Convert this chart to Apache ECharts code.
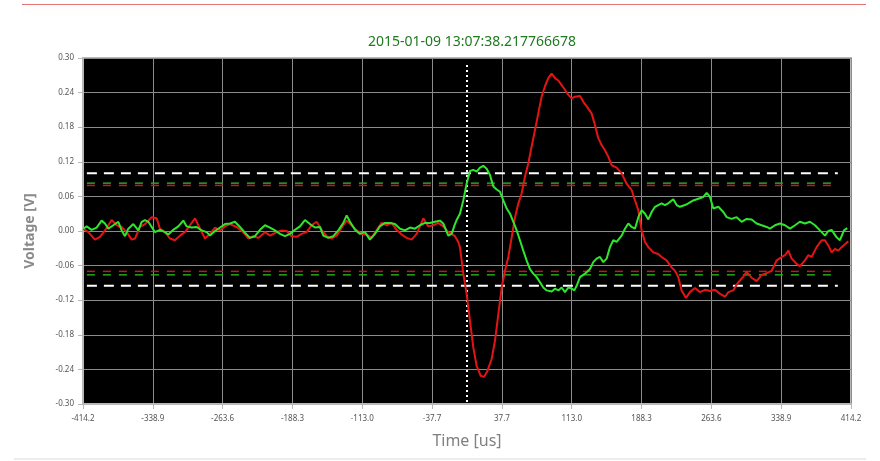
<!DOCTYPE html>
<html><head><meta charset="utf-8">
<script src="https://cdn.jsdelivr.net/npm/echarts@6/dist/echarts.min.js"></script>
<style>html,body{margin:0;padding:0;background:#fff}#c{width:880px;height:461px}</style>
</head><body><div id="c"></div>
<script>
const titleText = '2015-01-09 13:07:38.217766678';
const xAxisName = 'Time [us]';
const yAxisName = 'Voltage [V]';
const xTickLabels = ['-414.2','-338.9','-263.6','-188.3','-113.0','-37.7','37.7','113.0','188.3','263.6','338.9','414.2'];
const timeMin = -414.2, timeMax = 414.2;
const voltMin = -0.30, voltMax = 0.30, voltStep = 0.06;

const redTrace = [[-413.8,0.004],[-408.5,-0.002],[-401.3,-0.015],[-395.9,-0.010],[-390.5,0.001],[-383.3,0.019],[-377.9,0.010],[-372.5,0.007],[-367.1,-0.002],[-361.7,-0.015],[-358.1,-0.013],[-352.7,0.007],[-347.3,0.012],[-340.1,0.024],[-334.8,0.022],[-331.2,0.004],[-325.8,-0.002],[-320.4,-0.013],[-315.0,-0.016],[-309.6,-0.008],[-304.2,-0.002],[-298.8,0.010],[-293.4,0.022],[-288.0,0.004],[-282.6,-0.013],[-277.2,-0.005],[-271.8,0.006],[-266.4,0.001],[-261.0,0.008],[-255.6,0.012],[-248.5,0.007],[-241.3,-0.002],[-235.9,-0.013],[-230.5,-0.009],[-225.1,-0.012],[-217.9,-0.002],[-212.5,-0.008],[-205.3,-0.002],[-199.9,0.001],[-194.5,0.000],[-189.2,-0.009],[-183.8,-0.010],[-178.4,-0.005],[-173.0,-0.002],[-167.6,0.010],[-162.2,0.016],[-156.8,0.002],[-151.4,-0.009],[-146.0,-0.013],[-140.6,-0.008],[-133.4,0.010],[-129.8,0.018],[-124.4,0.010],[-119.0,0.001],[-113.7,-0.005],[-108.3,-0.006],[-102.9,-0.012],[-97.5,0.001],[-92.1,0.014],[-86.7,0.010],[-81.3,0.014],[-75.9,0.002],[-70.5,-0.006],[-65.1,-0.012],[-59.7,-0.015],[-54.3,-0.005],[-47.1,0.022],[-41.8,0.008],[-36.4,0.010],[-31.0,0.014],[-25.6,0.008],[-20.2,-0.002],[-16.6,-0.005],[-13.0,-0.009],[-9.4,-0.019],[-7.6,-0.028],[-4.0,-0.074],[-0.4,-0.109],[3.2,-0.156],[6.8,-0.202],[10.4,-0.234],[14.7,-0.251],[18.3,-0.253],[21.9,-0.243],[26.6,-0.222],[30.2,-0.190],[33.8,-0.144],[37.4,-0.098],[41.0,-0.069],[44.6,-0.045],[48.2,-0.011],[51.8,0.024],[55.4,0.048],[58.9,0.065],[62.5,0.094],[66.1,0.117],[69.7,0.146],[73.3,0.175],[76.9,0.204],[80.5,0.233],[84.1,0.251],[87.7,0.265],[91.3,0.273],[94.9,0.265],[98.5,0.261],[102.1,0.253],[105.7,0.245],[109.3,0.236],[112.9,0.230],[116.5,0.233],[121.9,0.234],[125.5,0.224],[129.1,0.216],[134.4,0.204],[138.0,0.184],[141.6,0.161],[145.2,0.149],[148.8,0.140],[152.4,0.129],[156.0,0.114],[161.4,0.110],[166.8,0.100],[172.2,0.082],[177.6,0.071],[181.2,0.053],[184.8,0.036],[188.4,0.001],[192.0,-0.019],[195.6,-0.028],[201.0,-0.037],[206.3,-0.040],[209.9,-0.045],[215.3,-0.051],[220.7,-0.063],[224.3,-0.069],[227.9,-0.080],[231.5,-0.103],[236.2,-0.116],[240.5,-0.106],[245.9,-0.099],[251.3,-0.106],[256.7,-0.102],[262.1,-0.104],[267.5,-0.102],[272.9,-0.109],[278.3,-0.114],[281.9,-0.106],[287.2,-0.103],[292.6,-0.089],[298.0,-0.079],[301.6,-0.071],[307.0,-0.081],[312.4,-0.087],[317.8,-0.076],[323.2,-0.073],[328.6,-0.069],[334.0,-0.051],[339.4,-0.045],[343.0,-0.042],[346.6,-0.034],[350.2,-0.048],[355.5,-0.057],[359.1,-0.061],[364.5,-0.051],[368.1,-0.042],[371.7,-0.045],[377.1,-0.028],[382.5,-0.016],[386.1,-0.016],[389.7,-0.025],[393.3,-0.037],[396.9,-0.031],[400.5,-0.034],[404.1,-0.028],[407.7,-0.023],[411.3,-0.018]];

const greenTrace = [[-413.8,0.004],[-410.3,0.008],[-404.9,0.002],[-399.5,0.006],[-394.1,0.018],[-390.5,0.013],[-386.9,0.004],[-381.5,0.010],[-376.1,0.016],[-372.5,0.001],[-368.9,-0.009],[-365.3,0.004],[-359.9,0.012],[-354.5,0.001],[-350.9,0.016],[-347.3,0.019],[-343.7,0.016],[-340.1,0.007],[-336.6,-0.002],[-331.2,0.002],[-325.8,-0.002],[-322.2,-0.006],[-316.8,0.002],[-311.4,0.008],[-306.0,0.018],[-302.4,0.008],[-297.0,0.006],[-291.6,0.007],[-286.2,0.001],[-280.8,-0.002],[-277.2,-0.008],[-271.8,0.000],[-266.4,0.006],[-261.0,0.012],[-255.6,0.013],[-250.3,0.016],[-244.9,0.007],[-239.5,-0.003],[-234.1,-0.012],[-228.7,-0.009],[-223.3,0.002],[-217.9,0.010],[-212.5,0.006],[-207.1,0.001],[-201.7,-0.005],[-196.3,-0.009],[-190.9,-0.005],[-185.6,0.002],[-180.2,0.008],[-174.8,0.019],[-169.4,0.012],[-164.0,0.006],[-158.6,0.007],[-155.0,-0.008],[-149.6,-0.012],[-144.2,-0.009],[-138.8,0.001],[-133.4,0.014],[-129.8,0.027],[-126.2,0.016],[-120.8,0.002],[-115.5,-0.005],[-110.1,-0.002],[-104.7,-0.015],[-99.3,-0.005],[-93.9,0.008],[-88.5,0.014],[-83.1,0.014],[-77.7,0.012],[-72.3,0.004],[-66.9,0.001],[-61.5,0.006],[-56.1,0.004],[-50.7,0.010],[-45.4,0.014],[-40.0,0.014],[-34.6,0.016],[-29.2,0.018],[-25.6,0.013],[-20.2,-0.008],[-16.6,-0.005],[-13.0,0.012],[-11.2,0.019],[-7.6,0.030],[-4.0,0.053],[-0.4,0.082],[3.2,0.104],[6.8,0.106],[10.4,0.103],[14.0,0.110],[17.6,0.113],[21.2,0.108],[24.8,0.097],[28.4,0.077],[32.0,0.072],[35.6,0.068],[39.2,0.053],[42.8,0.039],[46.4,0.030],[50.0,0.016],[53.6,0.001],[57.1,-0.016],[60.7,-0.034],[64.3,-0.051],[67.9,-0.066],[71.5,-0.074],[75.1,-0.080],[78.7,-0.089],[82.3,-0.098],[85.9,-0.103],[91.3,-0.105],[94.9,-0.100],[98.5,-0.103],[102.1,-0.098],[105.7,-0.106],[109.3,-0.098],[112.9,-0.100],[115.8,-0.103],[118.3,-0.095],[121.9,-0.080],[127.3,-0.074],[132.6,-0.066],[136.2,-0.054],[139.8,-0.048],[143.4,-0.045],[147.0,-0.054],[150.6,-0.048],[154.2,-0.028],[157.8,-0.016],[161.4,-0.019],[166.8,-0.008],[170.4,0.004],[174.0,0.013],[177.6,0.007],[181.2,0.004],[184.8,0.024],[188.4,0.036],[192.0,0.030],[195.6,0.020],[199.2,0.033],[202.8,0.042],[206.3,0.045],[209.9,0.048],[213.5,0.045],[217.1,0.048],[222.5,0.055],[226.1,0.045],[229.7,0.042],[235.1,0.045],[238.7,0.048],[244.1,0.053],[249.5,0.056],[254.9,0.059],[258.5,0.066],[262.1,0.059],[265.7,0.039],[271.1,0.042],[276.5,0.033],[280.1,0.024],[285.4,0.021],[290.8,0.024],[296.2,0.016],[301.6,0.021],[307.0,0.020],[312.4,0.013],[317.8,0.010],[323.2,0.007],[326.8,0.004],[332.2,0.010],[337.6,0.013],[343.0,0.010],[348.4,0.004],[353.8,0.010],[359.1,0.016],[364.5,0.013],[369.9,0.016],[375.3,0.010],[380.7,0.001],[386.1,-0.008],[389.7,0.000],[393.3,0.002],[398.7,-0.011],[402.3,-0.016],[406.6,0.001],[410.2,0.005]];

const whiteLimits = [0.100, -0.095];
const greenLimits = [0.083, -0.076];
const redLimits = [0.079, -0.070];
const limitSpan = [-410, 400];
const triggerTime = 0;
const triggerSpan = [0.288, -0.30];

// axis runs in tick units (0..11) so ticks start exactly at timeMin
const nTicks = xTickLabels.length - 1;
const toAxis = t => (t - timeMin) / (timeMax - timeMin) * nTicks;
const mapTrace = arr => arr.map(p => [toAxis(p[0]), p[1]]);
const limitLine = v => limitSpan.map(t => [toAxis(t), v]);

const series = [];
function addLimit(v, color, width, dash) {
  series.push({type:'line', data: limitLine(v), showSymbol:false, silent:true, animation:false,
    lineStyle:{color, width, type: dash}, z: 2});
}
whiteLimits.forEach(v => addLimit(v, '#ffffff', 2, [10, 7]));
greenLimits.forEach(v => addLimit(v, '#1fa81f', 1.5, [8, 8]));
redLimits.forEach(v => addLimit(v, '#c81818', 1.5, [8, 8]));
series.push({type:'line', data: triggerSpan.map(v => [toAxis(triggerTime), v]), showSymbol:false, silent:true,
  lineStyle:{color:'#ffffff', width:2, type:[2,3]}, z:3});
series.push({type:'line', name:'red', data: mapTrace(redTrace), showSymbol:false,
  lineStyle:{color:'#e51414', width:2}, z:4});
series.push({type:'line', name:'green', data: mapTrace(greenTrace), showSymbol:false,
  lineStyle:{color:'#2ee62e', width:2}, z:5});

const chart = echarts.init(document.getElementById('c'), null, {renderer:'canvas'});
chart.setOption({
  animation:false,
  backgroundColor:'#ffffff',
  title:{text:titleText, left:467, top:30, textAlign:'center',
    textStyle:{color:'#1f7a1f', fontSize:14, fontWeight:'normal', fontFamily:'Noto Sans'}},
  grid:{left:83, right:29, top:58, bottom:57, show:true, backgroundColor:'#000000', borderColor:'#b8b8b8', borderWidth:2},
  xAxis:{type:'value', min:0, max:nTicks, interval:1,
    name:xAxisName, nameLocation:'middle', nameGap:29,
    nameTextStyle:{color:'#808080', fontSize:16, fontFamily:'Noto Sans'},
    axisLine:{show:true, onZero:false, lineStyle:{color:'#b8b8b8', width:2}},
    axisTick:{show:true, length:5, lineStyle:{color:'#b8b8b8'}},
    axisLabel:{color:'#555', fontSize:8, margin:11, fontFamily:'Noto Sans',
      formatter: v => xTickLabels[Math.round(v)]},
    splitLine:{show:true, lineStyle:{color:'#8c8c8c', width:1}}},
  yAxis:{type:'value', min:voltMin, max:voltMax, interval:voltStep,
    name:yAxisName, nameLocation:'middle', nameGap:46, nameRotate:90,
    nameTextStyle:{color:'#8a8a8a', fontSize:14, fontWeight:'bold', fontFamily:'Noto Sans'},
    axisLine:{show:true, onZero:false, lineStyle:{color:'#b8b8b8', width:2}},
    axisTick:{show:true, length:5, lineStyle:{color:'#b8b8b8'}},
    axisLabel:{color:'#555', fontSize:8, margin:9, fontFamily:'Noto Sans',
      formatter: v => v.toFixed(2)},
    splitLine:{show:true, lineStyle:{color:'#8c8c8c', width:1}}},
  graphic:[
    {type:'rect', shape:{x:22, y:4, width:844, height:1}, style:{fill:'#e57373', shadowBlur:12, shadowColor:'rgba(0,0,0,0.12)', shadowOffsetY:4}},
    {type:'rect', shape:{x:14, y:458, width:852, height:2}, style:{fill:'#ececec'}}
  ],
  series
});
</script></body></html>
